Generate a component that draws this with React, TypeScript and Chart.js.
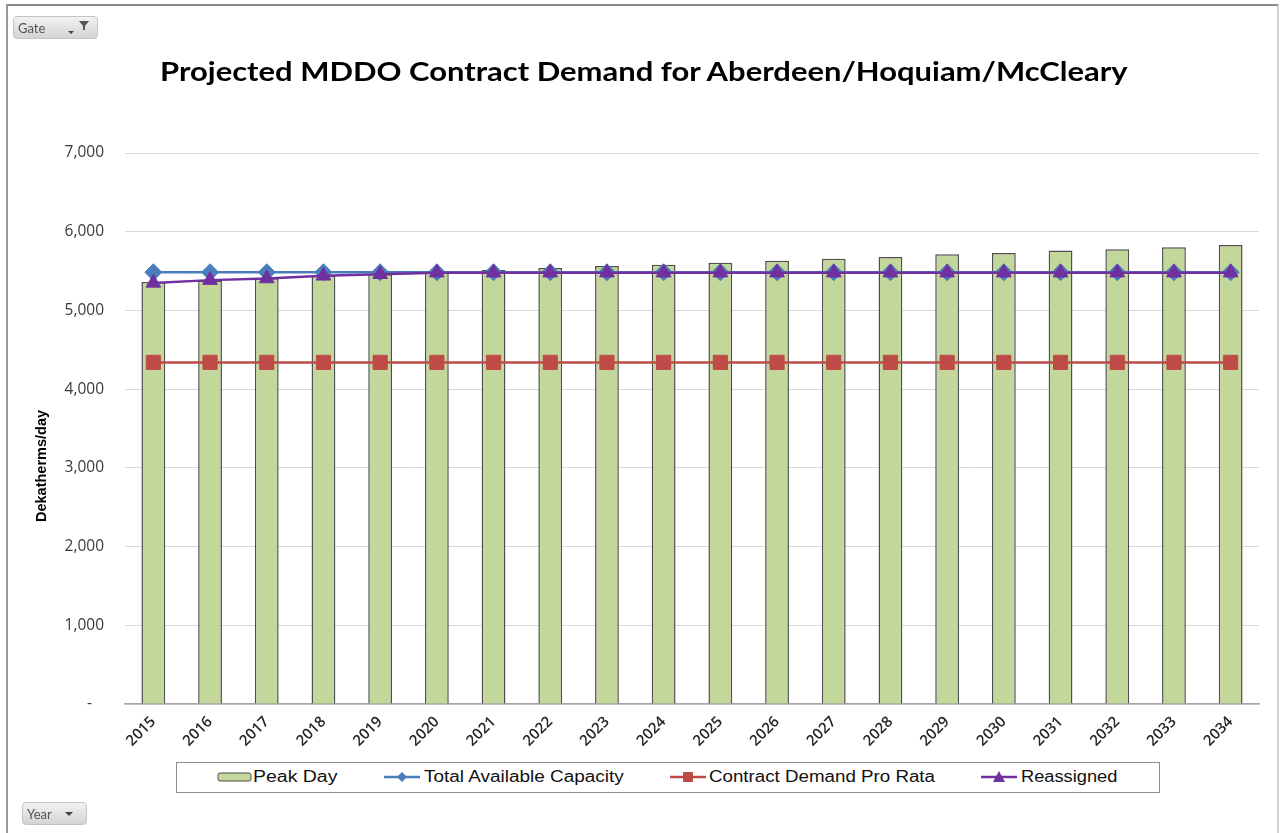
import React, { useEffect, useLayoutEffect, useRef, useState } from "react";
import { Chart, registerables } from "chart.js";

Chart.register(...registerables);

const years = [
  "2015", "2016", "2017", "2018", "2019", "2020", "2021", "2022", "2023", "2024",
  "2025", "2026", "2027", "2028", "2029", "2030", "2031", "2032", "2033", "2034",
];
const peakDay = [
  5360, 5380, 5410, 5440, 5460, 5485, 5515, 5540, 5565, 5580,
  5605, 5630, 5655, 5680, 5715, 5730, 5760, 5778, 5803, 5832,
];
const totalAvailableCapacity = [
  5485, 5485, 5485, 5485, 5485, 5485, 5485, 5485, 5485, 5485,
  5485, 5485, 5485, 5485, 5485, 5485, 5485, 5485, 5485, 5485,
];
const contractDemandProRata = [
  4340, 4340, 4340, 4340, 4340, 4340, 4340, 4340, 4340, 4340,
  4340, 4340, 4340, 4340, 4340, 4340, 4340, 4340, 4340, 4340,
];
const reassigned = [
  5350, 5385, 5405, 5440, 5460, 5480, 5480, 5480, 5480, 5480,
  5480, 5480, 5480, 5480, 5480, 5480, 5480, 5480, 5480, 5480,
];
const yMin = 0;
const yMax = 7000;
const yStep = 1000;

const TITLE = "Projected MDDO Contract Demand for Aberdeen/Hoquiam/McCleary";
const Y_TITLE = "Dekatherms/day";
const legendLabels = ["Peak Day", "Total Available Capacity", "Contract Demand Pro Rata", "Reassigned"];

const GREEN = "#c4d79b";
const BAR_BORDER = "#4f4f4f";
const BLUE = "#4a7ebb";
const RED = "#be4b48";
const PURPLE = "#7030a0";

function FitText({ text, width, style }: { text: string; width: number; style: React.CSSProperties }) {
  const ref = useRef<HTMLSpanElement>(null);
  const [sx, setSx] = useState(1);
  useLayoutEffect(() => {
    const measure = () => {
      if (ref.current) {
        const w = ref.current.offsetWidth;
        if (w > 0) setSx(width / w);
      }
    };
    measure();
    if ((document as any).fonts && (document as any).fonts.ready) {
      (document as any).fonts.ready.then(measure);
    }
  }, [text, width]);
  return (
    <span
      ref={ref}
      style={{
        display: "inline-block",
        whiteSpace: "nowrap",
        transformOrigin: "left center",
        transform: `scaleX(${sx})`,
        ...style,
      }}
    >
      {text}
    </span>
  );
}

function LegendSymbol({ kind }: { kind: string }) {
  if (kind === "bar") {
    return (
      <svg width="36" height="14" style={{ display: "block" }}>
        <rect x="1" y="3" width="33" height="8" rx="2" fill={GREEN} stroke={BAR_BORDER} strokeWidth="1" />
      </svg>
    );
  }
  const color = kind === "diamond" ? BLUE : kind === "square" ? RED : PURPLE;
  let marker: React.ReactNode = null;
  if (kind === "diamond") marker = <polygon points="18,2 23,7 18,12 13,7" fill={color} />;
  if (kind === "square") marker = <rect x="13" y="2" width="10" height="10" fill={color} />;
  if (kind === "triangle") marker = <polygon points="18,1 24,12 12,12" fill={color} />;
  return (
    <svg width="36" height="14" style={{ display: "block" }}>
      <line x1="0" y1="7" x2="36" y2="7" stroke={color} strokeWidth="2.5" />
      {marker}
    </svg>
  );
}

function FilterButton({ left, top, width, label, withFilter }: { left: number; top: number; width: number; label: string; withFilter: boolean }) {
  return (
    <div
      style={{
        position: "absolute",
        left,
        top,
        width,
        height: 23,
        boxSizing: "border-box",
        border: "1px solid #c4c4c4",
        borderRadius: 4,
        background: "linear-gradient(#f2f2f2, #d4d4d4)",
        fontFamily: "Lato, 'Open Sans', sans-serif",
        fontSize: 13,
        color: "#555",
      }}
    >
      <span style={{ position: "absolute", left: 4, top: 3 }}>{label}</span>
      <svg width="30" height="21" style={{ position: "absolute", right: 3, top: 0 }}>
        {withFilter ? (
          <>
            <polygon points="4,14 10,14 7,17" fill="#444" />
            <polygon points="15,4 25,4 21,9 21,13 19,13 19,9" fill="#555" />
          </>
        ) : (
          <polygon points="12,9 20,9 16,13" fill="#444" />
        )}
      </svg>
    </div>
  );
}

export default function App() {
  const canvasRef = useRef<HTMLCanvasElement>(null);

  useEffect(() => {
    if (!canvasRef.current) return;
    const chart = new Chart(canvasRef.current, {
      type: "bar",
      data: {
        labels: years,
        datasets: [
          {
            type: "line",
            label: legendLabels[3],
            data: reassigned,
            borderColor: PURPLE,
            backgroundColor: PURPLE,
            borderWidth: 2.5,
            pointStyle: "triangle",
            pointRadius: 8.5,
            pointBorderWidth: 1,
            pointBorderColor: PURPLE,
            pointBackgroundColor: PURPLE,
            fill: false,
            tension: 0,
            order: 1,
          } as any,
          {
            type: "line",
            label: legendLabels[2],
            data: contractDemandProRata,
            borderColor: RED,
            backgroundColor: RED,
            borderWidth: 2.5,
            pointStyle: "rect",
            pointRadius: 10,
            pointBorderWidth: 1,
            pointBorderColor: RED,
            pointBackgroundColor: RED,
            fill: false,
            tension: 0,
            order: 2,
          } as any,
          {
            type: "line",
            label: legendLabels[1],
            data: totalAvailableCapacity,
            borderColor: BLUE,
            backgroundColor: BLUE,
            borderWidth: 2.5,
            pointStyle: "rectRot",
            pointRadius: 8.5,
            pointBorderWidth: 1,
            pointBorderColor: BLUE,
            pointBackgroundColor: BLUE,
            fill: false,
            tension: 0,
            order: 3,
          } as any,
          {
            type: "bar",
            label: legendLabels[0],
            data: peakDay,
            backgroundColor: GREEN,
            borderColor: BAR_BORDER,
            borderWidth: 1.5,
            barPercentage: 0.42,
            categoryPercentage: 1,
            order: 4,
          } as any,
        ],
      },
      options: {
        responsive: false,
        animation: false,
        layout: { padding: { left: 0, right: 21, top: 153, bottom: 0 } },
        plugins: {
          legend: { display: false },
          title: { display: false },
          tooltip: { enabled: false },
        },
        scales: {
          x: {
            grid: { display: false, drawTicks: false },
            border: { display: true, color: "#a6a6a6", width: 1.5 },
            ticks: {
              font: { family: "'Open Sans', sans-serif", size: 15, weight: "600" },
              color: "#262626",
              maxRotation: 45,
              minRotation: 45,
              autoSkip: false,
              padding: 9,
            },
            afterFit: (s: any) => {
              s.height = 129;
            },
          },
          y: {
            min: yMin,
            max: yMax,
            border: { display: false },
            grid: { color: "#d9d9d9", lineWidth: 1, drawTicks: false },
            ticks: {
              stepSize: yStep,
              padding: 21,
              font: { family: "'Open Sans', sans-serif", size: 15.5 },
              color: "#3a3a3a",
              callback: (v: any) => (Number(v) === 0 ? "-   " : Number(v).toLocaleString("en-US")),
            },
            afterFit: (s: any) => {
              s.width = 125;
            },
          },
        },
      } as any,
    });
    return () => chart.destroy();
  }, []);

  const legendItems = [
    { kind: "bar", sym: 217, text: 253, w: 84 },
    { kind: "diamond", sym: 384, text: 424, w: 200 },
    { kind: "square", sym: 670, text: 709, w: 226 },
    { kind: "triangle", sym: 981, text: 1021, w: 97 },
  ];

  return (
    <div style={{ position: "fixed", left: 0, top: 0, width: 1280, height: 833, background: "#fff", overflow: "hidden" }}>
      <div
        style={{
          position: "absolute",
          left: 6,
          top: 4,
          width: 1273,
          height: 900,
          boxSizing: "border-box",
          borderTop: "2px solid #8c8c8c",
          borderLeft: "2px solid #9a9a9a",
          borderRight: "2px solid #cfcfcf",
        }}
      />
      <canvas ref={canvasRef} width={1280} height={833} style={{ position: "absolute", left: 0, top: 0, width: 1280, height: 833 }} />
      <div style={{ position: "absolute", left: 160, top: 54 }}>
        <FitText
          text={TITLE}
          width={968}
          style={{ fontFamily: "Lato, 'Open Sans', sans-serif", fontWeight: 700, fontSize: 26, lineHeight: "34px", color: "#000" }}
        />
      </div>
      <div
        style={{
          position: "absolute",
          left: 41,
          top: 466,
          transform: "translate(-50%, -50%) rotate(-90deg)",
          whiteSpace: "nowrap",
          fontFamily: "'Liberation Sans', Arial, sans-serif",
          fontWeight: 700,
          fontSize: 14.5,
          color: "#000",
        }}
      >
        {Y_TITLE}
      </div>
      <div
        style={{
          position: "absolute",
          left: 176,
          top: 762,
          width: 984,
          height: 31,
          boxSizing: "border-box",
          border: "1px solid #8c8c8c",
          background: "#fff",
        }}
      >
        {legendItems.map((it, i) => (
          <React.Fragment key={i}>
            <div style={{ position: "absolute", left: it.sym - 177, top: 7 }}>
              <LegendSymbol kind={it.kind} />
            </div>
            <div style={{ position: "absolute", left: it.text - 177, top: 4 }}>
              <FitText
                text={legendLabels[i]}
                width={it.w}
                style={{ fontFamily: "'Liberation Sans', Arial, sans-serif", fontSize: 16, lineHeight: "19px", color: "#111" }}
              />
            </div>
          </React.Fragment>
        ))}
      </div>
      <FilterButton left={13} top={16} width={85} label="Gate" withFilter={true} />
      <FilterButton left={22} top={802} width={65} label="Year" withFilter={false} />
    </div>
  );
}
